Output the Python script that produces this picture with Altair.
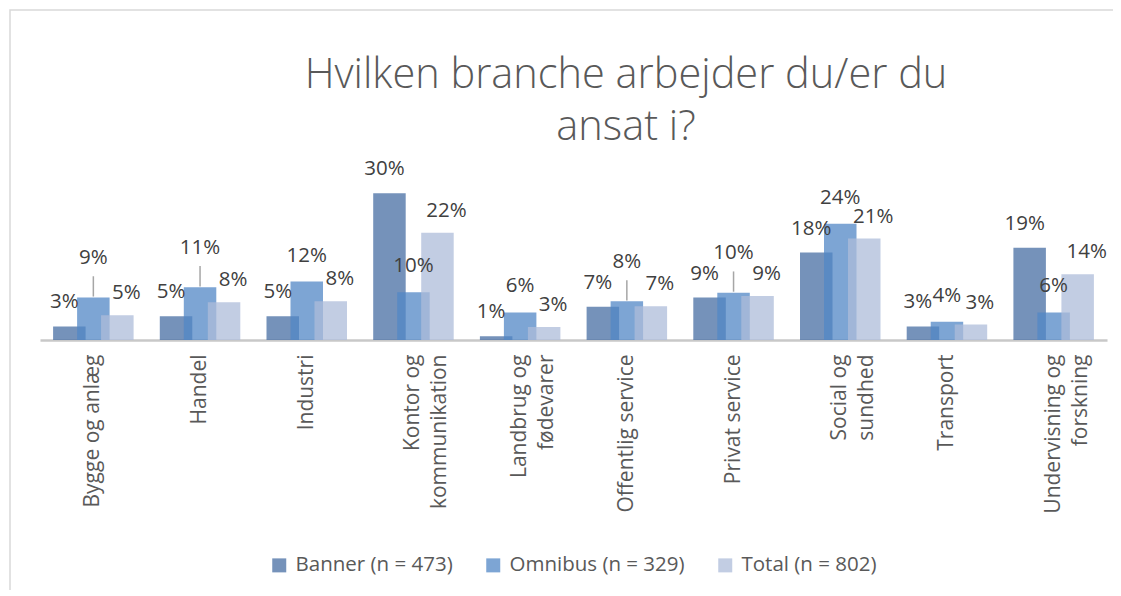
import altair as alt
import pandas as pd

categories = ["Bygge og anlæg", "Handel", "Industri", "Kontor og kommunikation",
              "Landbrug og fødevarer", "Offentlig service", "Privat service",
              "Social og sundhed", "Transport", "Undervisning og forskning"]
wrapped = {
    "Kontor og kommunikation": ["Kontor og", "kommunikation"],
    "Landbrug og fødevarer": ["Landbrug og", "fødevarer"],
    "Social og sundhed": ["Social og", "sundhed"],
    "Undervisning og forskning": ["Undervisning og", "forskning"],
}
series = ["Banner (n = 473)", "Omnibus (n = 329)", "Total (n = 802)"]
banner = [0.028, 0.049, 0.049, 0.304, 0.008, 0.069, 0.088, 0.181, 0.028, 0.191]
omnibus = [0.088, 0.109, 0.121, 0.099, 0.057, 0.080, 0.098, 0.241, 0.038, 0.057]
total = [0.051, 0.078, 0.080, 0.222, 0.027, 0.070, 0.091, 0.210, 0.032, 0.136]
title_lines = ["Hvilken branche arbejder du/er du", "ansat i?"]
colors = ["#476da3", "#5287c5", "#adbcd9"]

rows = []
for s, vals in zip(series, [banner, omnibus, total]):
    for c, v in zip(categories, vals):
        rows.append({"cat": c, "series": s, "value": v})
df = pd.DataFrame(rows)
wide = pd.DataFrame({"cat": categories, "b": banner, "o": omnibus, "t": total})

FONT = "Open Sans"
label_expr = " : ".join(
    [f"datum.label == '{k}' ? {v!r}" for k, v in wrapped.items()]
) + " : datum.label"

x_enc = alt.X("cat:N", sort=categories,
              scale=alt.Scale(paddingInner=0, paddingOuter=0),
              axis=alt.Axis(title=None, labelAngle=-90, labelAlign="right",
                            labelBaseline="middle", labelFontSize=21,
                            labelFont=FONT, labelColor="#595959",
                            labelLineHeight=27, labelPadding=14,
                            ticks=False, tickSize=0, domainColor="#c8c8c8",
                            domainWidth=2.5, labelExpr=label_expr))
yscale = alt.Scale(domain=[0, 0.35])
y_enc = alt.Y("value:Q", scale=yscale, axis=None)
color_enc = alt.Color("series:N", scale=alt.Scale(domain=series, range=colors),
                      legend=alt.Legend(title=None, orient="none", legendX=229,
                                        legendY=384, direction="horizontal",
                                        symbolType="square", symbolSize=196,
                                        symbolStrokeWidth=0, labelFontSize=20.5,
                                        labelFont=FONT, labelColor="#595959",
                                        labelLimit=400, columnPadding=30,
                                        labelOffset=6))

base = alt.Chart(df)
offsets = [-24, 0, 24]

layers = []
for s, off in zip(series, offsets):
    layers.append(
        base.transform_filter(alt.datum.series == s)
        .mark_bar(width=32.5, xOffset=off, opacity=0.75)
        .encode(x=x_enc, y=y_enc, color=color_enc)
    )

text_style = dict(baseline="middle", fontSize=20.5, font=FONT, color="#404040")
# Banner labels
layers.append(
    base.transform_filter(alt.datum.series == series[0])
    .mark_text(xOffset=-29, dy=-24, **text_style)
    .encode(x=x_enc, y=y_enc, text=alt.Text("value:Q", format=".0%"))
)
# Total labels
layers.append(
    base.transform_filter(alt.datum.series == series[2])
    .mark_text(xOffset=33, dy=-22, **text_style)
    .encode(x=x_enc, y=y_enc, text=alt.Text("value:Q", format=".0%"))
)
# Omnibus labels: lifted (with a leader line) when crowded by neighbouring labels
wbase = alt.Chart(wide).transform_calculate(
    crowd="datum.o > 0.07 && datum.o < 0.15 && min(abs(datum.o - datum.b), abs(datum.o - datum.t)) < 0.039",
).transform_calculate(
    ly="datum.crowd ? datum.o + 0.028 : datum.o",
    l1="datum.o + 0.002",
    l2="datum.o + 0.044",
)
layers.append(
    wbase.transform_filter("datum.crowd")
    .mark_rule(color="#a6a6a6", strokeWidth=1.5)
    .encode(x=x_enc, y=alt.Y("l1:Q", scale=yscale, axis=None), y2="l2:Q")
)
layers.append(
    wbase.mark_text(dy=-26, **text_style)
    .encode(x=x_enc, y=alt.Y("ly:Q", scale=yscale, axis=None),
            text=alt.Text("o:Q", format=".0%"))
)

deco = alt.Chart(pd.DataFrame({"a": [0]}))
border = deco.mark_rect(fill="transparent", stroke="#d9d9d9", strokeWidth=1.5).encode(
    x=alt.value(-30), x2=alt.value(1077), y=alt.value(-161), y2=alt.value(422))
title = deco.mark_text(
    text=title_lines, font=FONT, fontSize=41.5, fontWeight=300, color="#595959",
    align="center", baseline="alphabetic", lineHeight=52,
).encode(x=alt.value(586), y=alt.value(-83))

chart = alt.layer(border, title, *layers).properties(
    width=1067, height=169,
    autosize=alt.AutoSizeParams(type="none"),
    padding={"left": 32, "top": 163, "right": 6, "bottom": 250},
).configure_view(stroke=None)

chart.save("out.html", embed_options={"renderer": "svg", "actions": False})
